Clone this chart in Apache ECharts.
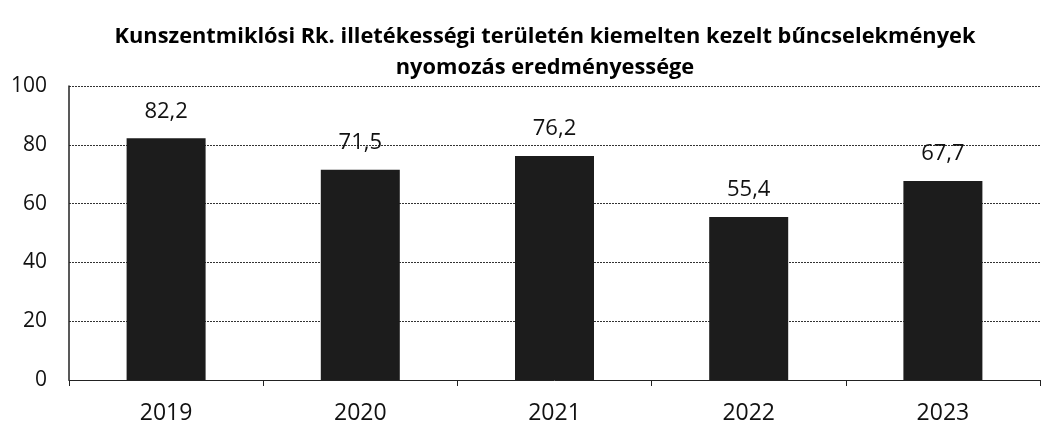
<!DOCTYPE html>
<html>
<head>
<meta charset="utf-8">
<script src="https://cdn.jsdelivr.net/npm/echarts@6/dist/echarts.min.js"></script>
<style>
  html, body { margin: 0; padding: 0; background: #fff; }
  #chart { width: 1046px; height: 432px; }
</style>
</head>
<body>
<div id="chart"></div>
<script>
var years = ['2019', '2020', '2021', '2022', '2023'];
var rates = [82.2, 71.5, 76.2, 55.4, 67.7];
var titleLines = ['Kunszentmiklósi Rk. illetékességi területén kiemelten kezelt bűncselekmények', 'nyomozás eredményessége'];

var chart = echarts.init(document.getElementById('chart'));
var option = {
    backgroundColor: '#fff',
    animation: false,
    title: {
        text: titleLines.join('\n'),
        left: 545,
        top: 21,
        padding: 0,
        textAlign: 'center',
        textStyle: {
            fontFamily: 'Open Sans',
            fontWeight: 'bold',
            fontSize: 21.8,
            lineHeight: 31,
            color: '#000'
        }
    },
    grid: {
        left: 69,
        right: 6,
        top: 86,
        bottom: 52
    },
    xAxis: {
        type: 'category',
        data: years,
        axisLine: { lineStyle: { color: '#222', width: 1 } },
        axisTick: { show: true, length: 6, lineStyle: { color: '#222' } },
        axisLabel: {
            fontFamily: 'Open Sans',
            fontSize: 23,
            color: '#111',
            margin: 22
        }
    },
    yAxis: {
        type: 'value',
        min: 0,
        max: 100,
        interval: 20,
        axisLine: { show: true, lineStyle: { color: '#222', width: 1.5 } },
        axisTick: { show: false },
        axisLabel: {
            fontFamily: 'Open Sans',
            fontSize: 21,
            color: '#111',
            margin: 22
        },
        splitLine: {
            lineStyle: { color: '#333', width: 1, type: [2, 1] }
        }
    },
    series: [{
        type: 'bar',
        data: rates,
        barWidth: 79,
        itemStyle: { color: '#1c1c1c' },
        label: {
            show: true,
            position: 'top',
            distance: 16,
            fontFamily: 'Open Sans',
            fontSize: 22,
            color: '#111',
            formatter: function (p) {
                return p.value.toFixed(1).replace('.', ',');
            }
        }
    }]
};
chart.setOption(option);
</script>
</body>
</html>
